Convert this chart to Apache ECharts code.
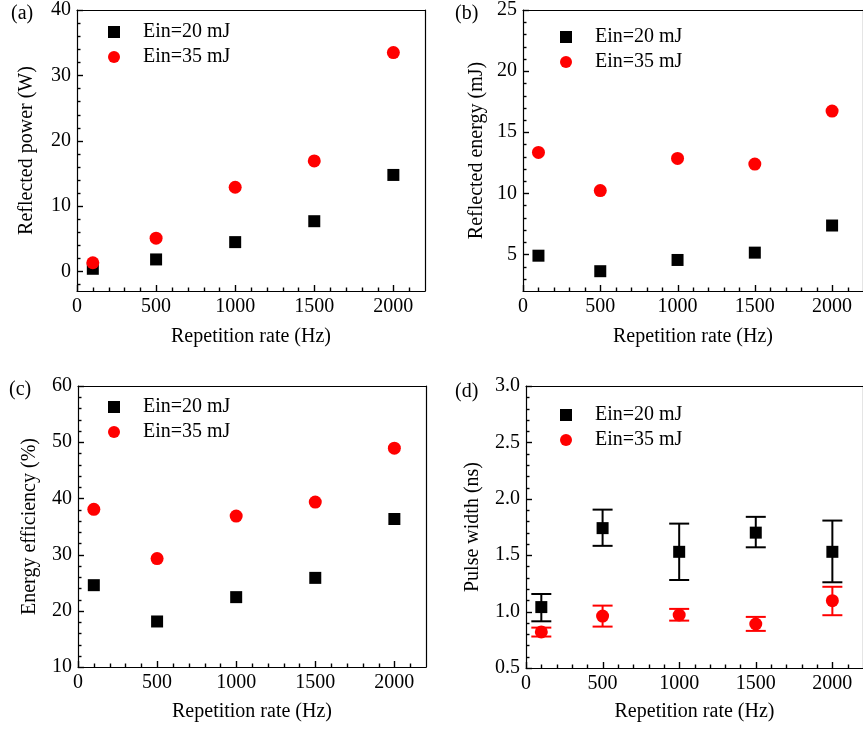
<!DOCTYPE html>
<html>
<head>
<meta charset="utf-8">
<script src="https://cdn.jsdelivr.net/npm/echarts@6/dist/echarts.min.js"></script>
<style>
html,body{margin:0;padding:0;background:#fff;}
#chart{width:863px;height:729px;}
</style>
</head>
<body>
<div id="chart"></div>
<script>
// ---- data ----
const repRate = [100, 500, 1000, 1500, 2000];
const seriesNames = ['Ein=20 mJ', 'Ein=35 mJ'];

const powerEin20 = [0.4, 1.83, 4.48, 7.68, 14.76];
const powerEin35 = [1.32, 5.09, 12.88, 16.9, 33.49];

const energyEin20 = [4.89, 3.62, 4.54, 5.14, 7.36];
const energyEin35 = [13.34, 10.22, 12.85, 12.39, 16.73];

const effEin20 = [24.56, 18.1, 22.43, 25.86, 36.33];
const effEin35 = [38.05, 29.29, 36.86, 39.35, 48.93];

const widthEin20 = [1.04, 1.74, 1.53, 1.70, 1.53];
const widthEin20Low = [0.914, 1.583, 1.28, 1.57, 1.26];
const widthEin20High = [1.156, 1.904, 1.78, 1.84, 1.807];
const widthEin35 = [0.82, 0.96, 0.97, 0.89, 1.097];
const widthEin35Low = [0.779, 0.867, 0.92, 0.829, 0.968];
const widthEin35High = [0.858, 1.053, 1.024, 0.953, 1.22];

// ---- tick labels / tick positions ----
const xTicks = [0, 500, 1000, 1500, 2000];
const xMinorTicks = [100,200,300,400,600,700,800,900,1100,1200,1300,1400,1600,1700,1800,1900,2100];
const yTicksA = [0, 10, 20, 30, 40];
const yMinorA = [-2,2,4,6,8,12,14,16,18,22,24,26,28,32,34,36,38];
const yTicksB = [5, 10, 15, 20, 25];
const yMinorB = [3,4,6,7,8,9,11,12,13,14,16,17,18,19,21,22,23,24];
const yTicksC = [10, 20, 30, 40, 50, 60];
const yMinorC = [12,14,16,18,22,24,26,28,32,34,36,38,42,44,46,48,52,54,56,58];
const yTicksD = [0.5, 1.0, 1.5, 2.0, 2.5, 3.0];
const yMinorD = [0.6,0.7,0.8,0.9,1.1,1.2,1.3,1.4,1.6,1.7,1.8,1.9,2.1,2.2,2.3,2.4,2.6,2.7,2.8,2.9];

const panelLabels = ['(a)', '(b)', '(c)', '(d)'];
const yTitles = ['Reflected power (W)', 'Reflected energy (mJ)', 'Energy efficiency (%)', 'Pulse width (ns)'];
const xTitle = 'Repetition rate (Hz)';

// ---- layout ----
const FONT = 'Liberation Serif';
const BLACK = '#000000';
const RED = '#ff0000';
const MAJOR_LEN = 6, MINOR_LEN = 3.5;

const panels = [
  {grid:{left:77, top:9, width:348, height:282}, yMin:-3, yMax:40, yTicks:yTicksA, yMinor:yMinorA, yDec:0,
   s20:powerEin20, s35:powerEin35, yGap:40, xGap:36, label:{left:11, top:4}, legend:{left:108, top:22}},
  {grid:{left:523, top:9, width:348, height:282}, yMin:2, yMax:25, yTicks:yTicksB, yMinor:yMinorB, yDec:0,
   s20:energyEin20, s35:energyEin35, yGap:36, xGap:36, label:{left:455, top:4}, legend:{left:560, top:27}},
  {grid:{left:78, top:386, width:348, height:281}, yMin:10, yMax:60, yTicks:yTicksC, yMinor:yMinorC, yDec:0,
   s20:effEin20, s35:effEin35, yGap:38, xGap:35, label:{left:9, top:380}, legend:{left:108, top:397}},
  {grid:{left:526, top:386, width:348, height:282}, yMin:0.5, yMax:3.0, yTicks:yTicksD, yMinor:yMinorD, yDec:1,
   s20:widthEin20, s35:widthEin35, yGap:43, xGap:34, label:{left:455, top:382}, legend:{left:560, top:405},
   err20:[widthEin20Low, widthEin20High], err35:[widthEin35Low, widthEin35High]}
];

const grids = [], xAxes = [], yAxes = [], series = [], titles = [], legends = [];
const textBase = {fontFamily: FONT, fontSize: 20, color: BLACK};
const lineSt = {color: BLACK, width: 1.2};

function frameAxis(i, pos, min, max) {
  return {
    type: 'value', gridIndex: i, min: min, max: max, position: pos,
    axisLine: {show: true, onZero: false, lineStyle: lineSt},
    axisTick: {show: false}, axisLabel: {show: false}, splitLine: {show: false}
  };
}

panels.forEach((p, i) => {
  grids.push(Object.assign({show: false}, p.grid));
  const xi = xAxes.length, yi = yAxes.length;
  xAxes.push({
    type: 'value', gridIndex: i, min: 0, max: 2200, position: 'bottom',
    name: xTitle, nameLocation: 'middle', nameGap: p.xGap, nameTextStyle: textBase,
    axisLine: {show: true, onZero: false, lineStyle: lineSt},
    axisTick: {show: false},
    axisLabel: Object.assign({customValues: xTicks, margin: 6, formatter: v => String(v)}, textBase),
    splitLine: {show: false}
  });
  xAxes.push(frameAxis(i, 'top', 0, 2200));
  yAxes.push({
    type: 'value', gridIndex: i, min: p.yMin, max: p.yMax, position: 'left',
    name: yTitles[i], nameLocation: 'middle', nameGap: p.yGap, nameTextStyle: textBase,
    axisLine: {show: true, onZero: false, lineStyle: lineSt},
    axisTick: {show: false},
    axisLabel: Object.assign({customValues: p.yTicks, margin: 6, formatter: v => Number(v).toFixed(p.yDec)}, textBase),
    splitLine: {show: false}
  });
  yAxes.push(frameAxis(i, 'right', p.yMin, p.yMax));

  // inward tick marks placed through the axes' own scales
  const tickData = [];
  xTicks.forEach(v => tickData.push([v, p.yMin, MAJOR_LEN, 0]));
  xMinorTicks.forEach(v => tickData.push([v, p.yMin, MINOR_LEN, 0]));
  p.yTicks.forEach(v => tickData.push([0, v, MAJOR_LEN, 1]));
  p.yMinor.forEach(v => tickData.push([0, v, MINOR_LEN, 1]));
  series.push({
    type: 'custom', name: 'ticks', xAxisIndex: xi, yAxisIndex: yi, silent: true, clip: false, z: 4,
    data: tickData, encode: {x: 0, y: 1},
    renderItem: (params, api) => {
      const c = api.coord([api.value(0), api.value(1)]);
      const len = api.value(2), dir = api.value(3);
      let shape;
      if (dir === 0) {
        const x = Math.round(c[0]) + 0.5, y = c[1];
        shape = {x1: x, y1: y, x2: x, y2: y - len};
      } else {
        const y = Math.round(c[1]) + 0.5, x = c[0];
        shape = {x1: x, y1: y, x2: x + len, y2: y};
      }
      return {type: 'line', shape: shape, style: {stroke: BLACK, lineWidth: 1.4}};
    }
  });

  const addErr = (bounds, color, name) => {
    series.push({
      type: 'custom', name: name, xAxisIndex: xi, yAxisIndex: yi, z: 2, silent: true,
      data: repRate.map((x, k) => [x, bounds[0][k], bounds[1][k]]),
      encode: {x: 0, y: [1, 2]},
      renderItem: (params, api) => {
        const x = api.value(0);
        const lo = api.coord([x, api.value(1)]);
        const hi = api.coord([x, api.value(2)]);
        const hw = 10;
        const st = {stroke: color, lineWidth: 2};
        return {type: 'group', children: [
          {type: 'line', shape: {x1: lo[0], y1: lo[1], x2: hi[0], y2: hi[1]}, style: st},
          {type: 'line', shape: {x1: lo[0] - hw, y1: lo[1], x2: lo[0] + hw, y2: lo[1]}, style: st},
          {type: 'line', shape: {x1: hi[0] - hw, y1: hi[1], x2: hi[0] + hw, y2: hi[1]}, style: st}
        ]};
      }
    });
  };
  if (p.err20) addErr(p.err20, BLACK, 'err20');
  if (p.err35) addErr(p.err35, RED, 'err35');

  series.push({
    type: 'scatter', name: seriesNames[0], xAxisIndex: xi, yAxisIndex: yi, z: 3,
    symbol: 'rect', symbolSize: 12, itemStyle: {color: BLACK, opacity: 1},
    data: repRate.map((x, k) => [x, p.s20[k]])
  });
  series.push({
    type: 'scatter', name: seriesNames[1], xAxisIndex: xi, yAxisIndex: yi, z: 3,
    symbol: 'circle', symbolSize: 13, itemStyle: {color: RED, opacity: 1},
    data: repRate.map((x, k) => [x, p.s35[k]])
  });

  titles.push({text: panelLabels[i], left: p.label.left, top: p.label.top, padding: 0,
    textStyle: {fontFamily: FONT, fontSize: 20, fontWeight: 'normal', color: BLACK}});

  legends.push({
    left: p.legend.left, top: p.legend.top, orient: 'vertical', padding: 0,
    itemWidth: 48, itemHeight: 12, itemGap: 5, symbolKeepAspect: true,
    selectedMode: false,
    itemStyle: {opacity: 1},
    data: [
      {name: seriesNames[0], icon: 'path://M0,0L10,0L10,10L0,10Z'},
      {name: seriesNames[1], icon: 'circle'}
    ],
    textStyle: {fontFamily: FONT, fontSize: 20, color: BLACK}
  });
});

const chart = echarts.init(document.getElementById('chart'), null, {renderer: 'canvas'});
chart.setOption({
  animation: false,
  backgroundColor: '#ffffff',
  title: titles,
  legend: legends,
  grid: grids,
  xAxis: xAxes,
  yAxis: yAxes,
  series: series
});
</script>
</body>
</html>
